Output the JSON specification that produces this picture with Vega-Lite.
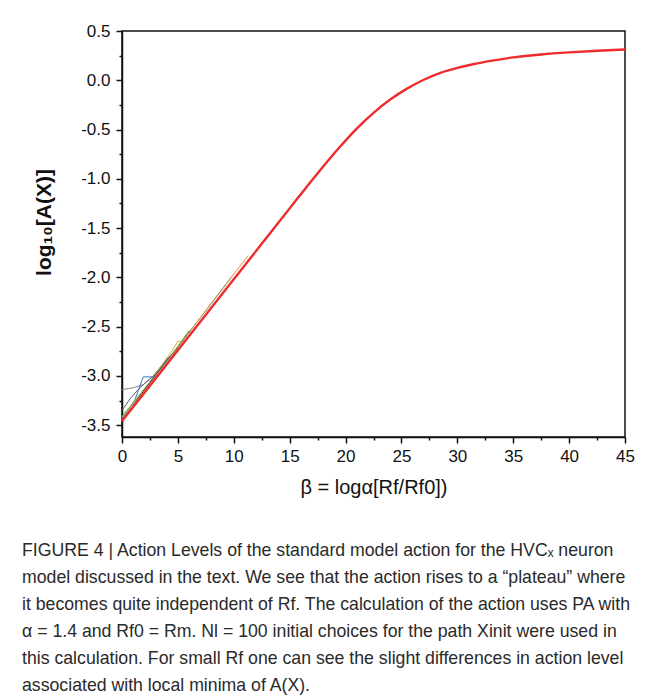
{
  "$schema": "https://vega.github.io/schema/vega-lite/v6.json",
  "width": 503,
  "height": 406,
  "autosize": {"type": "none"},
  "padding": {"left": 122, "top": 31, "right": 30, "bottom": 262},
  "background": "white",
  "config": {
    "view": {"stroke": "#111", "strokeWidth": 1.5},
    "font": "Liberation Sans"
  },
  "title": {
    "text": [
      "FIGURE 4 | Action Levels of the standard model action for the HVCₓ neuron",
      "model discussed in the text. We see that the action rises to a “plateau” where",
      "it becomes quite independent of Rf. The calculation of the action uses PA with",
      "α = 1.4 and Rf0 = Rm. Nl = 100 initial choices for the path Xinit were used in",
      "this calculation. For small Rf one can see the slight differences in action level",
      "associated with local minima of A(X)."
    ],
    "orient": "bottom",
    "anchor": "start",
    "frame": "group",
    "dx": -100,
    "offset": 45,
    "fontSize": 17.7,
    "fontWeight": "normal",
    "font": "Liberation Sans",
    "color": "#2a2a2a",
    "lineHeight": 27,
    "baseline": "top"
  },
  "datasets": {
    "main": [
      {"beta": 0, "logA": -3.46},
      {"beta": 2.5, "logA": -3.1},
      {"beta": 5, "logA": -2.74},
      {"beta": 7.5, "logA": -2.38},
      {"beta": 10, "logA": -2.02},
      {"beta": 12.5, "logA": -1.66},
      {"beta": 15, "logA": -1.3},
      {"beta": 16.5, "logA": -1.085},
      {"beta": 18, "logA": -0.875},
      {"beta": 19.5, "logA": -0.675},
      {"beta": 21, "logA": -0.49},
      {"beta": 22.5, "logA": -0.33},
      {"beta": 24, "logA": -0.195},
      {"beta": 25.5, "logA": -0.085},
      {"beta": 27, "logA": 0.005},
      {"beta": 28.5, "logA": 0.075},
      {"beta": 30, "logA": 0.125},
      {"beta": 31.5, "logA": 0.165},
      {"beta": 33, "logA": 0.197},
      {"beta": 35, "logA": 0.232},
      {"beta": 37.5, "logA": 0.262},
      {"beta": 40, "logA": 0.283},
      {"beta": 42.5, "logA": 0.299},
      {"beta": 45, "logA": 0.313}
    ],
    "runs": [
      {"run": "a", "beta": 0, "logA": -3.14},
      {"run": "a", "beta": 1.0, "logA": -3.12},
      {"run": "a", "beta": 1.9, "logA": -3.09},
      {"run": "a", "beta": 2.8, "logA": -3.0},
      {"run": "a", "beta": 4.0, "logA": -2.85},
      {"run": "a", "beta": 5.0, "logA": -2.73},
      {"run": "b", "beta": 0, "logA": -3.35},
      {"run": "b", "beta": 0.8, "logA": -3.22},
      {"run": "b", "beta": 1.6, "logA": -3.12},
      {"run": "b", "beta": 2.8, "logA": -3.0},
      {"run": "b", "beta": 4.0, "logA": -2.83},
      {"run": "b", "beta": 5.0, "logA": -2.72},
      {"run": "c", "beta": 0, "logA": -3.44},
      {"run": "c", "beta": 1.16, "logA": -3.24},
      {"run": "c", "beta": 1.9, "logA": -3.01},
      {"run": "c", "beta": 2.8, "logA": -3.01},
      {"run": "c", "beta": 3.7, "logA": -2.88},
      {"run": "c", "beta": 5.0, "logA": -2.71},
      {"run": "d", "beta": 0, "logA": -3.42},
      {"run": "d", "beta": 2.5, "logA": -3.07},
      {"run": "d", "beta": 5.0, "logA": -2.7},
      {"run": "d", "beta": 7.5, "logA": -2.34},
      {"run": "d", "beta": 9.8, "logA": -2.0},
      {"run": "e", "beta": 0, "logA": -3.41},
      {"run": "e", "beta": 2.5, "logA": -3.06},
      {"run": "e", "beta": 4.5, "logA": -2.78},
      {"run": "e", "beta": 6.0, "logA": -2.54},
      {"run": "f", "beta": 0, "logA": -3.42},
      {"run": "f", "beta": 2.5, "logA": -3.06},
      {"run": "f", "beta": 4.5, "logA": -2.74},
      {"run": "f", "beta": 5.0, "logA": -2.65},
      {"run": "f", "beta": 5.5, "logA": -2.65},
      {"run": "g", "beta": 0, "logA": -3.45},
      {"run": "g", "beta": 3.0, "logA": -2.99},
      {"run": "g", "beta": 5.0, "logA": -2.71},
      {"run": "g", "beta": 6.2, "logA": -2.53},
      {"run": "h", "beta": 0, "logA": -3.45},
      {"run": "h", "beta": 5.0, "logA": -2.71},
      {"run": "h", "beta": 9.0, "logA": -2.11},
      {"run": "h", "beta": 11.3, "logA": -1.78}
    ]
  },
  "encoding": {
    "x": {
      "field": "beta",
      "type": "quantitative",
      "scale": {"domain": [0, 45], "nice": false},
      "axis": {
        "title": "β = logα[Rf/Rf0])",
        "titleFont": "Liberation Sans",
        "titleFontSize": 20,
        "titleFontWeight": "normal",
        "titleColor": "#111",
        "titlePadding": 13,
        "values": [0, 2.5, 5, 7.5, 10, 12.5, 15, 17.5, 20, 22.5, 25, 27.5, 30, 32.5, 35, 37.5, 40, 42.5, 45],
        "labelExpr": "datum.value % 5 === 0 ? format(datum.value, 'd') : ''",
        "labelFont": "Liberation Sans",
        "labelFontSize": 17,
        "labelColor": "#111",
        "labelPadding": 5,
        "labelOverlap": false,
        "labelFlush": false,
        "grid": false,
        "domainColor": "#111",
        "domainWidth": 1.5,
        "tickColor": "#111",
        "tickWidth": 1.5,
        "tickSize": {"condition": {"test": "datum.value % 5 === 0", "value": 6}, "value": 3}
      }
    },
    "y": {
      "field": "logA",
      "type": "quantitative",
      "scale": {"domain": [-3.62, 0.5], "nice": false, "zero": false},
      "axis": {
        "title": "log₁₀[A(X)]",
        "titleFont": "Liberation Sans",
        "titleFontSize": 21,
        "titleFontWeight": "bold",
        "titleColor": "#111",
        "titlePadding": 26,
        "titleY": 191,
        "values": [-3.5, -3.25, -3, -2.75, -2.5, -2.25, -2, -1.75, -1.5, -1.25, -1, -0.75, -0.5, -0.25, 0, 0.25, 0.5],
        "labelExpr": "abs(datum.value * 2 - round(datum.value * 2)) < 0.001 ? replace(format(datum.value, '.1f'), '−', '-') : ''",
        "labelFont": "Liberation Sans",
        "labelFontSize": 17,
        "labelColor": "#111",
        "labelPadding": 6,
        "labelOverlap": false,
        "labelFlush": false,
        "grid": false,
        "domainColor": "#111",
        "domainWidth": 1.5,
        "tickColor": "#111",
        "tickWidth": 1.5,
        "tickSize": {"condition": {"test": "abs(datum.value * 2 - round(datum.value * 2)) < 0.001", "value": 6}, "value": 3}
      }
    }
  },
  "layer": [
    {
      "data": {"name": "runs"},
      "mark": {"type": "line", "strokeWidth": 1, "interpolate": "linear"},
      "encoding": {
        "color": {
          "field": "run",
          "type": "nominal",
          "legend": null,
          "scale": {
            "domain": ["a", "b", "c", "d", "e", "f", "g", "h"],
            "range": ["#8e8088", "#6a5878", "#3b74c0", "#2fb8b2", "#58a845", "#c9b53a", "#2b3f80", "#e58b3a"]
          }
        }
      }
    },
    {
      "data": {"name": "main"},
      "mark": {"type": "line", "color": "#ee2c2c", "strokeWidth": 2.4, "interpolate": "monotone"},
      "encoding": {}
    }
  ]
}
